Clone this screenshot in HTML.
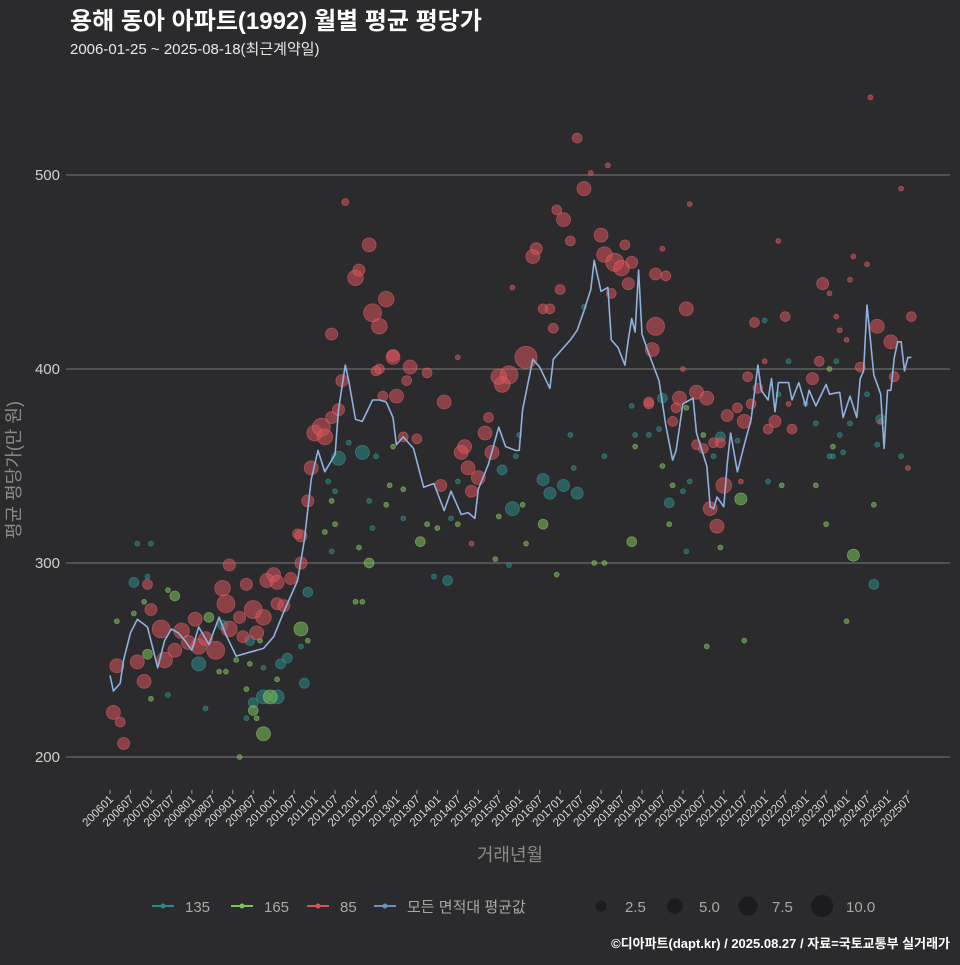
<!DOCTYPE html>
<html><head><meta charset="utf-8">
<style>
html,body{margin:0;padding:0;background:#2b2b2d;}
body{width:960px;height:960px;overflow:hidden;font-family:"Liberation Sans","Noto Sans CJK KR",sans-serif;}
</style></head>
<body>
<svg id="chart" width="960" height="960" xmlns="http://www.w3.org/2000/svg" style="font-family:'Liberation Sans','Noto Sans CJK KR',sans-serif">
<rect width="960" height="960" fill="#2b2b2d"/>
<text x="70" y="29" fill="#ffffff" font-size="24" font-weight="bold">용해 동아 아파트(1992) 월별 평균 평당가</text>
<text x="70" y="54" fill="#e8e8e8" font-size="15">2006-01-25 ~ 2025-08-18(최근계약일)</text>
<g id="grid"></g>
<g id="yaxis"></g>
<g id="xaxis"></g>
<g id="points"></g>
<g id="line"></g>
<text transform="translate(20,470) rotate(-90)" text-anchor="middle" fill="#8a8a8a" font-size="18">평균 평당가(만 원)</text>
<text x="510" y="861" text-anchor="middle" fill="#8a8a8a" font-size="18">거래년월</text>
<g id="legend"></g>
<text x="950" y="948" text-anchor="end" fill="#ffffff" font-size="13" font-weight="bold">©디아파트(dapt.kr) / 2025.08.27 / 자료=국토교통부 실거래가</text>
</svg>
<script>
const yTicks=[200,300,400,500];
const lineMonths=[0,1,3,4,6,8,11,12,14,16,18,20,22,24,26,29,32,34,37,41,45,48,51,55,57,59,61,63,66,67,69,70,72,74,77,79,81,83,84,86,89,92,95,98,100,103,105,107,108,111,114,116,119,120,121,124,126,129,130,132,135,137,139,141,142,144,146,147,149,151,152,153,154,155,156,158,161,163,165,166,168,171,172,175,176,177,178,180,181,182,184,186,188,190,191,193,194,195,196,197,199,200,202,204,205,207,210,211,214,215,217,219,220,221,222,224,226,227,228,229,230,231,232,233,234,235];
const lineValues=[242,234,238,250,264,271,267,260,246,260,266,264,260,255,267,258,272,263,252,254,256,262,275,291,312,343,358,347,356,379,402,394,374,373,384,384,383,375,361,365,359,339,341,327,337,325,326,323,338,351,370,360,358,358,379,405,401,390,405,409,415,420,430,441,456,440,442,415,411,402,415,426,419,451,418,408,394,371,353,358,382,385,367,350,329,328,334,329,351,367,347,361,374,402,389,384,395,378,393,393,393,384,393,381,389,381,392,387,388,375,386,375,395,399,433,397,387,359,389,389,406,414,414,399,406,406,388];
// [month index from 2006-01, price, size]
const pts135=[[7,290,2],[11,293,.5],[8,310,.5],[12,310,.5],[17,232,.5],[28,225,.5],[26,248,4],[41,260,2],[33,268,2],[42,228,2],[50,248,2],[52,251,2],[57,238,2],[58,285,2],[45,231,4],[49,231,4],[56,257,.5],[67,354,4],[74,357,4],[70,362,.5],[64,342,.5],[66,337,.5],[76,332,.5],[77,318,.5],[65,306,.5],[45,246,.5],[40,220,.5],[115,348,2],[118,328,4],[127,343,3],[129,336,3],[133,340,3],[137,336,3],[135,366,.5],[145,355,.5],[136,349,.5],[119,355,.5],[120,366,.5],[99,291,2],[102,342,.5],[100,323,.5],[78,355,.5],[86,323,.5],[117,299,.5],[95,293,.5],[153,381,.5],[154,366,.5],[158,366,.5],[139,432,.5],[162,385,2],[164,331,2],[170,342,.5],[168,337,.5],[161,369,.5],[179,365,2],[184,363,.5],[177,355,.5],[169,306,.5],[193,342,.5],[192,425,.5],[199,404,.5],[196,387,.5],[207,372,.5],[214,366,.5],[217,372,.5],[215,357,.5],[211,355,.5],[212,355,.5],[222,387,.5],[226,374,2],[213,404,.5],[232,355,.5],[224,289,2],[225,361,.5],[204,382,.5]];
const pts165=[[2,270,.5],[11,253,2],[19,283,2],[17,286,.5],[10,280,.5],[7,274,.5],[12,230,.5],[29,272,2],[37,250,.5],[32,244,.5],[34,244,.5],[41,248,.5],[40,235,.5],[42,224,2],[43,220,.5],[45,212,4],[47,231,4],[49,240,.5],[56,266,4],[58,260,.5],[44,260,.5],[38,200,.5],[65,332,.5],[66,320,.5],[63,316,.5],[73,308,.5],[76,300,2],[72,280,.5],[74,280,.5],[91,311,2],[127,320,2],[153,311,2],[82,340,.5],[86,338,.5],[81,330,.5],[83,360,.5],[93,320,.5],[96,318,.5],[102,320,.5],[114,324,.5],[121,330,.5],[122,310,.5],[113,302,.5],[131,294,.5],[142,300,.5],[145,300,.5],[154,360,.5],[162,350,.5],[165,340,.5],[169,380,.5],[164,320,.5],[174,366,.5],[179,308,.5],[185,333,3],[197,340,.5],[207,340,.5],[212,360,.5],[210,320,.5],[211,400,.5],[224,330,.5],[218,304,3],[216,270,.5],[186,260,.5],[175,257,.5]];
const pts85=[[1,223,4],[3,218,2],[4,207,3],[2,247,4],[8,249,4],[10,239,4],[12,276,3],[11,289,2],[15,266,6.6],[16,250,5],[19,255,4],[21,265,5],[23,259,4],[25,271,4],[26,257,5],[28,261,4],[31,255,6.6],[33,287,5],[34,279,6.6],[35,299,3],[35,266,5],[38,272,3],[39,262,3],[40,289,3],[42,276,6.6],[43,264,4],[45,272,5],[46,291,4],[48,294,4],[49,290,4],[49,279,3],[53,292,3],[51,278,3],[55,315,2],[56,314,3],[56,300,3],[58,332,3],[59,349,4],[60,367,5],[62,370,6.6],[63,365,5],[65,375,3],[67,379,3],[65,418,3],[68,394,3],[69,486,1],[72,447,5],[73,451,3],[76,464,4],[77,429,6.6],[81,436,5],[83,407,3],[79,400,2],
[137,519,2],[146,505,.5],[141,501,.5],[139,493,4],[131,482,2],[133,477,4],[135,466,2],[144,469,4],[145,459,5],[148,455,6.6],[150,452,5],[151,464,2],[153,455,3],[152,444,3],[147,439,2],[160,449,3],[160,422,6.6],[159,410,4],[158,382,2],[125,462,3],[124,458,4],[132,441,2],[127,431,2],[129,431,2],[130,421,2],[122,406,10],[117,397,6.6],[114,396,5],[115,392,5],[79,422,5],[83,406,4],[88,401,4],[87,394,2],[93,398,2],[78,399,2],[84,386,4],[80,386,2],[98,383,4],[86,365,2],[90,364,2],[111,375,2],[110,367,4],[104,360,4],[103,357,4],[112,357,4],[105,349,4],[108,344,4],[106,337,3],[97,340,3],[102,406,.5],[118,442,.5],[106,310,.5],
[223,540,.5],[232,493,.5],[170,485,.5],[162,462,.5],[196,466,.5],[163,448,2],[209,444,3],[211,439,.5],[218,458,.5],[222,454,.5],[217,446,.5],[169,431,4],[189,424,2],[198,427,2],[213,427,.5],[214,420,.5],[216,415,.5],[225,422,4],[229,414,4],[235,427,2],[192,404,.5],[168,400,.5],[208,404,2],[220,401,2],[187,396,2],[206,395,3],[230,396,2],[190,390,2],[172,388,4],[167,385,4],[175,385,4],[166,380,2],[158,383,2],[188,382,2],[199,382,.5],[184,380,2],[181,376,3],[186,373,4],[195,373,3],[165,373,2],[193,369,2],[200,369,2],[172,361,2],[174,359,2],[177,362,2],[179,362,2],[180,340,5],[185,342,.5],[176,328,4],[178,319,4],[226,373,.5],[234,349,.5]];
const legendAreas=["135","165","85","모든 면적대 평균값"];
const legendSizes=[2.5,5.0,7.5,10.0];

const NS="http://www.w3.org/2000/svg";
const X0=110, XSTEP=3.41, YREF=500, Y500=175, YPX=1.94;
function xs(m){return X0+m*XSTEP;}
function ys(v){return Y500+(YREF-v)*YPX;}
function rs(s){return 3.5*Math.sqrt(s);}
function mk(tag,attrs,parent){const e=document.createElementNS(NS,tag);for(const k in attrs)e.setAttribute(k,attrs[k]);parent.appendChild(e);return e;}

const grid=document.getElementById('grid'), yax=document.getElementById('yaxis');
yTicks.forEach(t=>{
  const l=mk('line',{x1:66,x2:950,y1:ys(t),y2:ys(t),stroke:'#6a6a6a','stroke-width':1.2},grid);
  
  
  const tx=mk('text',{x:60,y:ys(t)+5,'text-anchor':'end',fill:'#d0d0d0','font-size':15},yax);
  tx.textContent=t;
  
  
});
const xax=document.getElementById('xaxis');
for(let k=0;k<40;k++){
  const m=k*6, yr=2006+Math.floor(m/12), mo=(m%12)+1;
  const lab=''+yr+(mo<10?'0':'')+mo;
  const x=xs(m);
  const tk=mk('line',{x1:x,x2:x,y1:790,y2:794,stroke:'#9a9a9a','stroke-width':1},xax);
  
  
  const tx=mk('text',{x:0,y:0,'text-anchor':'end',fill:'#d8d8d8','font-size':11.5,transform:'translate('+(x+4)+',800) rotate(-45)'},xax);
  tx.textContent=lab;
  
  
}
const pg=document.getElementById('points');
const series=[[pts135,'#2a8a86','#3aa8a2'],[pts165,'#7cc25a','#9bdc74'],[pts85,'#d9545a','#ee6a6e']];
series.forEach(([arr,fill,stroke])=>{
  arr.forEach(p=>{
    const c=mk('circle',{cx:xs(p[0]),cy:ys(p[1]),r:rs(p[2]),fill:fill,'fill-opacity':0.55,stroke:stroke,'stroke-opacity':0.5,'stroke-width':0.8},pg);
    
    
  });
});
const lg=document.getElementById('line');
let d='';
lineMonths.forEach((m,i)=>{d+=(i?'L':'M')+xs(m).toFixed(1)+','+ys(lineValues[i]).toFixed(1);});
const pl=mk('path',{d:d,fill:'none',stroke:'#8fb1df','stroke-width':1.6,'stroke-linejoin':'round'},lg);



const leg=document.getElementById('legend');
const lcol=['#2a8a86','#7cc25a','#d9545a','#6f8fb8'];
const lx=[152,231,307,374];
legendAreas.forEach((t,i)=>{
  const g=mk('g',{},leg);
  
  
  mk('line',{x1:lx[i],x2:lx[i]+22,y1:906,y2:906,stroke:lcol[i],'stroke-width':2},g);
  mk('circle',{cx:lx[i]+11,cy:906,r:2.5,fill:lcol[i]},g);
  const tx=mk('text',{x:lx[i]+33,y:912,fill:'#a8a8a8','font-size':15},g);
  tx.textContent=t;
});
const sx=[601,675,748,822];
legendSizes.forEach((s,i)=>{
  const g=mk('g',{},leg);
  
  
  mk('circle',{cx:sx[i],cy:906,r:rs(s),fill:'#1c1c1e'},g);
  const tx=mk('text',{x:sx[i]+24,y:912,fill:'#a8a8a8','font-size':15},g);
  tx.textContent=s.toFixed(1);
});
</script>
</body></html>
